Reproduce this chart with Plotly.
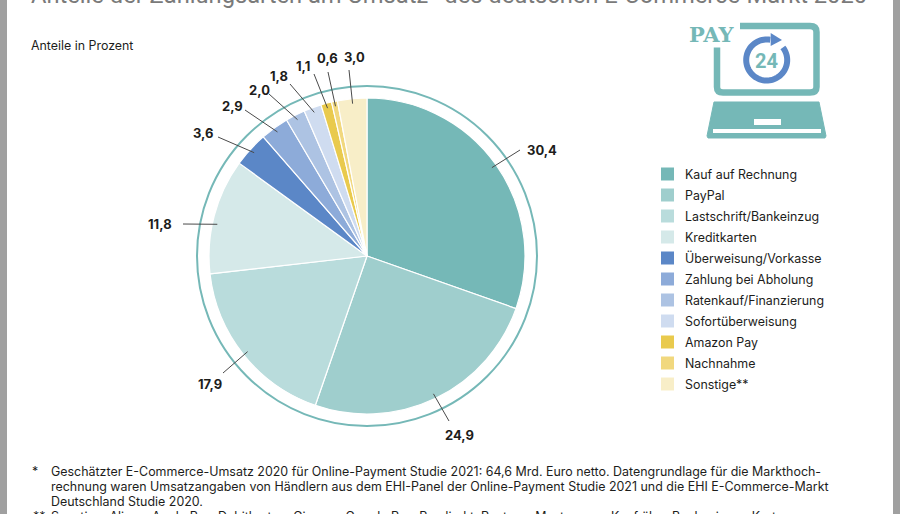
import numpy as np
import plotly.graph_objects as go

W, H = 900, 514
categories = ["Kauf auf Rechnung", "PayPal", "Lastschrift/Bankeinzug", "Kreditkarten",
              "Überweisung/Vorkasse", "Zahlung bei Abholung", "Ratenkauf/Finanzierung",
              "Sofortüberweisung", "Amazon Pay", "Nachnahme", "Sonstige**"]
values = [30.4, 24.9, 17.9, 11.8, 3.6, 2.9, 2.0, 1.8, 1.1, 0.6, 3.0]
value_labels = ["30,4", "24,9", "17,9", "11,8", "3,6", "2,9", "2,0", "1,8", "1,1", "0,6", "3,0"]
colors = ["#75b8b7", "#9fcecd", "#b9dcdc", "#d5e9e9", "#5b87c7", "#8dabd9",
          "#adc3e3", "#cfdcf0", "#e9ca4d", "#f1d87e", "#f8eec8"]
title_text = "Anteile der Zahlungsarten am Umsatz* des deutschen E-Commerce-Markt 2020"
subtitle_text = "Anteile in Prozent"
footnotes = [
    ("*", "Geschätzter E-Commerce-Umsatz 2020 für Online-Payment Studie 2021: 64,6 Mrd. Euro netto. Datengrundlage für die Markthoch-"),
    ("", "rechnung waren Umsatzangaben von Händlern aus dem EHI-Panel der Online-Payment Studie 2021 und die EHI E-Commerce-Markt"),
    ("", "Deutschland Studie 2020."),
    ("**", "Sonstige: Alipay, Apple Pay, Debitkarten, Giropay, Google Pay, Paydirekt, Postpay, Masterpass, Kauf über Bank, eigene Karte"),
]

# layout constants (pixels)
CX, CY, R, RING = 367, 256, 158, 170
FONT = "Inter"
TEAL = "#75b8b7"
BLUE = "#5b87c7"
# leader-line outer ends and label centres, in pixels, per slice
leader_ends = [(520, 150), (449, 421), (223, 373), (183, 224), (218, 137), (245, 110),
               (269, 94), (290, 84), (314, 74), (328, 72), (349, 70)]
label_pos = [(542, 150), (460, 435), (210, 384), (160, 224), (203, 133), (232, 106),
             (259, 90), (279, 76), (303, 66), (327, 58), (354, 57)]
angle_shift = [0, 0, 0, -2.8, 0, 0, 0, 0, 0, 0, 0]


def px(x):
    return x / W


def py(y):
    return 1 - y / H


def path(points, close=False):
    s = "M " + " L ".join(f"{px(x):.5f},{py(y):.5f}" for x, y in points)
    return s + (" Z" if close else "")


def rpath(cmds):
    out = []
    for c in cmds:
        out.append(c[0] + " " + " ".join(f"{px(c[i]):.5f},{py(c[i + 1]):.5f}" for i in range(1, len(c), 2)))
    return " ".join(out)


fig = go.Figure(go.Pie(
    labels=categories, values=values, sort=False, direction="clockwise", rotation=0,
    marker=dict(colors=colors, line=dict(color="white", width=1.2)),
    textinfo="none", hoverinfo="label+value", showlegend=False,
    domain=dict(x=[px(CX - R), px(CX + R)], y=[py(CY + R), py(CY - R)]),
))

shapes = []
ann = []


def text(x, y, s, size, color="#1d1d1b", anchor="left", bold=False, family=FONT):
    ann.append(dict(x=px(x), y=py(y), xref="paper", yref="paper", text=f"<b>{s}</b>" if bold else s,
                    showarrow=False, xanchor=anchor, yanchor="middle", align=anchor,
                    font=dict(size=size, color=color, family=family),
                    borderpad=0, borderwidth=0))


# side bars
for x0, x1 in ((0, 7), (893, 900)):
    shapes.append(dict(type="rect", xref="paper", yref="paper", x0=px(x0), x1=px(x1), y0=0, y1=1,
                       fillcolor="#a0a0a0", line_width=0))

# ring
shapes.append(dict(type="circle", xref="paper", yref="paper", x0=px(CX - RING), x1=px(CX + RING),
                   y0=py(CY + RING), y1=py(CY - RING), line=dict(color=TEAL, width=2)))

# leader lines and value labels, from the cumulative slice angles
cum = 0.0
total = sum(values)
for v, lab, end, pos, sh in zip(values, value_labels, leader_ends, label_pos, angle_shift):
    a = np.radians((cum + v / 2) / total * 360 + sh)
    cum += v
    sx, sy = CX + 153 * np.sin(a), CY - 153 * np.cos(a)
    shapes.append(dict(type="line", xref="paper", yref="paper", x0=px(sx), y0=py(sy), x1=px(end[0]), y1=py(end[1]),
                       line=dict(color="#4a4a4a", width=1)))
    text(pos[0], pos[1], lab, 13, anchor="center", bold=True)

# legend
for i, (c, col) in enumerate(zip(categories, colors)):
    y = 174 + i * 21
    shapes.append(dict(type="rect", xref="paper", yref="paper", x0=px(661), x1=px(674), y0=py(y + 6.5), y1=py(y - 6.5),
                       fillcolor=col, line_width=0))
    text(685, y, c, 12.4)

# texts
text(31, -5, title_text, 23.7, color="#7a7a7a", family="Roboto")
text(31, 45, subtitle_text, 12.4)
for i, (mark, line) in enumerate(footnotes):
    y = 471 + i * 15
    if mark:
        text(35 if mark == "*" else 39, y, mark, 12.4, anchor="center")
    text(51, y, line, 12.45)

# icon
shapes.append(dict(type="path", xref="paper", yref="paper", line=dict(color=TEAL, width=6.5),
                   path=rpath([("M", 740, 26), ("L", 810, 26), ("Q", 816.5, 26, 816.5, 32), ("L", 816.5, 87),
                               ("Q", 816.5, 92.5, 810, 92.5), ("L", 723, 92.5), ("Q", 717, 92.5, 717, 87), ("L", 717, 47.5)])))
shapes.append(dict(type="path", xref="paper", yref="paper", fillcolor=TEAL, line=dict(color=TEAL, width=1),
                   path=path([(714, 102), (819, 102), (826, 136), (825, 138), (708, 138), (707, 136)], True)))
shapes.append(dict(type="rect", xref="paper", yref="paper", x0=px(754), x1=px(781), y0=py(125), y1=py(119),
                   fillcolor="white", line_width=0))
shapes.append(dict(type="rect", xref="paper", yref="paper", x0=px(713), x1=px(821), y0=py(133), y1=py(129),
                   fillcolor="white", line_width=0))
th = np.radians(np.linspace(52, 370, 70))
shapes.append(dict(type="path", xref="paper", yref="paper", line=dict(color=BLUE, width=6),
                   path=path([(766.7 + 20.5 * np.sin(t), 60 - 20.5 * np.cos(t)) for t in th])))
shapes.append(dict(type="path", xref="paper", yref="paper", fillcolor=BLUE, line_width=0,
                   path=path([(770.7, 33), (782, 40), (770.7, 46)], True)))
text(712, 35, "PAY", 21, color=TEAL, anchor="center", bold=True, family="DejaVu Serif")
text(766.5, 61, "24", 20, color=TEAL, anchor="center", bold=True, family="Roboto")

fig.update_layout(width=W, height=H, margin=dict(l=0, r=0, t=0, b=0), paper_bgcolor="white",
                  plot_bgcolor="white", shapes=shapes, annotations=ann, showlegend=False)
fig.write_html("out.html", config=dict(displayModeBar=False),
               post_script="document.body.style.margin='0';document.body.style.overflow='hidden';")
